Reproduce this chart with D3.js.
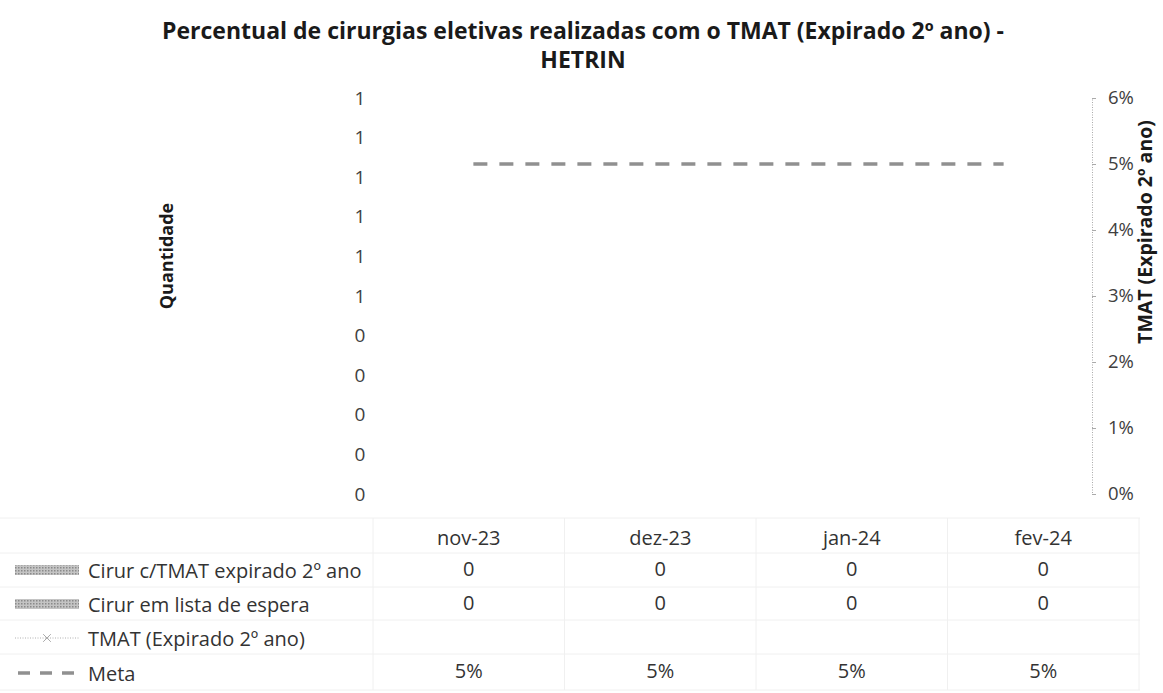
<!DOCTYPE html>
<html><head><meta charset="utf-8">
<script src="https://cdn.jsdelivr.net/npm/d3@7/dist/d3.min.js"></script>
<style>body{margin:0;background:#fff}svg{display:block}</style>
</head><body><svg id="c" width="1163" height="693"></svg>
<script>
const categories = ["nov-23","dez-23","jan-24","fev-24"];
const cirurExpirado = [0,0,0,0];
const cirurEspera = [0,0,0,0];
const tmat = [null,null,null,null];
const meta = [0.05,0.05,0.05,0.05];
const leftTicks = [0,0.1,0.2,0.3,0.4,0.5,0.6,0.7,0.8,0.9,1];
const leftTickLabels = ["0","0","0","0","0","1","1","1","1","1","1"];
const rightTicks = [0,0.01,0.02,0.03,0.04,0.05,0.06];
const rightTickLabels = ["0%","1%","2%","3%","4%","5%","6%"];
const seriesNames = ["Cirur c/TMAT expirado 2º ano","Cirur em lista de espera","TMAT (Expirado 2º ano)","Meta"];

const svg = d3.select("#c");
const font = "'Open Sans', sans-serif";
const defs = svg.append("defs");
const pat = defs.append("pattern").attr("id","dots").attr("width",3).attr("height",3).attr("patternUnits","userSpaceOnUse");
pat.append("rect").attr("width",3).attr("height",3).attr("fill","#c4c4c4");
pat.append("rect").attr("width",1.5).attr("height",1.5).attr("fill","#8a8a8a");

// title
svg.append("text").attr("x",583).attr("y",39).attr("text-anchor","middle")
  .attr("font-family",font).attr("font-weight","bold").attr("font-size",23).attr("fill","#1a1a1a")
  .text("Percentual de cirurgias eletivas realizadas com o TMAT (Expirado 2º ano) -");
svg.append("text").attr("x",583).attr("y",68).attr("text-anchor","middle")
  .attr("font-family",font).attr("font-weight","bold").attr("font-size",23).attr("fill","#1a1a1a")
  .text("HETRIN");

const plotL = 385, plotR = 1092, plotT = 98, plotB = 494;
const x = d3.scaleBand().domain(categories).range([plotL, plotR]);
const yL = d3.scaleLinear().domain([0,1]).range([plotB, plotT]);
const yR = d3.scaleLinear().domain([0,0.06]).range([plotB, plotT]);

// left axis (labels only)
const gL = svg.append("g").attr("transform",`translate(360,0)`)
  .call(d3.axisLeft(yL).tickValues(leftTicks).tickFormat((d,i)=>leftTickLabels[i]).tickSize(0).tickPadding(0));
gL.select(".domain").remove();
gL.selectAll("text").attr("text-anchor","middle").attr("font-family",font).attr("font-size",19).attr("fill","#404040");

// right axis
const gR = svg.append("g").attr("transform",`translate(${plotR},0)`)
  .call(d3.axisRight(yR).tickValues(rightTicks).tickFormat((d,i)=>rightTickLabels[i]).tickSize(4).tickPadding(12));
gR.select(".domain").attr("stroke","#aaa").attr("stroke-dasharray","1,1.5");
gR.selectAll(".tick line").attr("stroke","#aaa");
gR.selectAll("text").attr("font-family",font).attr("font-size",18.5).attr("fill","#404040");

// axis titles
svg.append("text").attr("transform","translate(173,256) rotate(-90)").attr("text-anchor","middle")
  .attr("font-family",font).attr("font-weight","bold").attr("font-size",18).attr("fill","#1a1a1a").text("Quantidade");
svg.append("text").attr("transform","translate(1152,232) rotate(-90)").attr("text-anchor","middle")
  .attr("font-family",font).attr("font-weight","bold").attr("font-size",19.5).attr("fill","#1a1a1a").text("TMAT (Expirado 2º ano)");

// bars (zero height)
const bw = x.bandwidth()*0.25;
svg.append("g").selectAll("rect").data(cirurExpirado).join("rect")
  .attr("x",(d,i)=>x(categories[i])+x.bandwidth()/2-bw).attr("width",bw)
  .attr("y",d=>yL(d)).attr("height",d=>plotB-yL(d)).attr("fill","url(#dots)");
svg.append("g").selectAll("rect").data(cirurEspera).join("rect")
  .attr("x",(d,i)=>x(categories[i])+x.bandwidth()/2).attr("width",bw)
  .attr("y",d=>yL(d)).attr("height",d=>plotB-yL(d)).attr("fill","url(#dots)");

// TMAT line (no values)
const line = d3.line().defined(d=>d!=null).x((d,i)=>x(categories[i])+x.bandwidth()/2).y(d=>yR(d));
svg.append("path").datum(tmat).attr("d",line).attr("fill","none").attr("stroke","#aaa").attr("stroke-dasharray","1,2");

// Meta line
svg.append("path").datum(meta).attr("d",line).attr("fill","none").attr("stroke","#909090")
  .attr("stroke-width",3.5).attr("stroke-dasharray","14,12");

// data table
const xt = d3.scaleBand().domain(categories).range([373, 1139]);
const rowBase = [545, 576, 610, 645, 678];
const tf = d3.format(".0%");
const grid = svg.append("g").attr("stroke","#f0f0f0").attr("stroke-width",1);
[518,553,587,620,654,690].forEach(yy=>grid.append("line").attr("x1",0).attr("x2",1140).attr("y1",yy).attr("y2",yy));
categories.forEach(c=>grid.append("line").attr("x1",xt(c)).attr("x2",xt(c)).attr("y1",518).attr("y2",690));
grid.append("line").attr("x1",1139).attr("x2",1139).attr("y1",518).attr("y2",690);

const gT = svg.append("g").attr("font-family",font).attr("font-size",20).attr("fill","#333");
categories.forEach((c,i)=>{
  const cx = xt(c)+xt.bandwidth()/2;
  gT.append("text").attr("x",cx).attr("y",rowBase[0]).attr("text-anchor","middle").text(c);
  gT.append("text").attr("x",cx).attr("y",rowBase[1]).attr("text-anchor","middle").text(cirurExpirado[i]);
  gT.append("text").attr("x",cx).attr("y",rowBase[2]).attr("text-anchor","middle").text(cirurEspera[i]);
  if (tmat[i]!=null) gT.append("text").attr("x",cx).attr("y",rowBase[3]).attr("text-anchor","middle").text(tf(tmat[i]));
  gT.append("text").attr("x",cx).attr("y",rowBase[4]).attr("text-anchor","middle").text(tf(meta[i]));
});

// legend keys
const keyY = [570, 604, 638, 673];
const lg = svg.append("g");
lg.append("rect").attr("x",15).attr("y",keyY[0]-5).attr("width",64).attr("height",10).attr("fill","url(#dots)");
lg.append("rect").attr("x",15).attr("y",keyY[1]-5).attr("width",64).attr("height",10).attr("fill","url(#dots)");
lg.append("line").attr("x1",15).attr("x2",79).attr("y1",keyY[2]).attr("y2",keyY[2]).attr("stroke","#b0b0b0").attr("stroke-dasharray","1,1.5");
lg.append("path").attr("d",d3.symbol(d3.symbolX,40)()).attr("transform",`translate(47,${keyY[2]})`).attr("stroke","#aaa").attr("fill","#aaa");
lg.append("line").attr("x1",18).attr("x2",82).attr("y1",keyY[3]).attr("y2",keyY[3]).attr("stroke","#909090").attr("stroke-width",3.5).attr("stroke-dasharray","12,10");
seriesNames.forEach((n,i)=>{
  svg.append("text").attr("x",88).attr("y",keyY[i]+8).attr("font-family",font).attr("font-size",20).attr("fill","#333").text(n);
});
</script></body></html>
